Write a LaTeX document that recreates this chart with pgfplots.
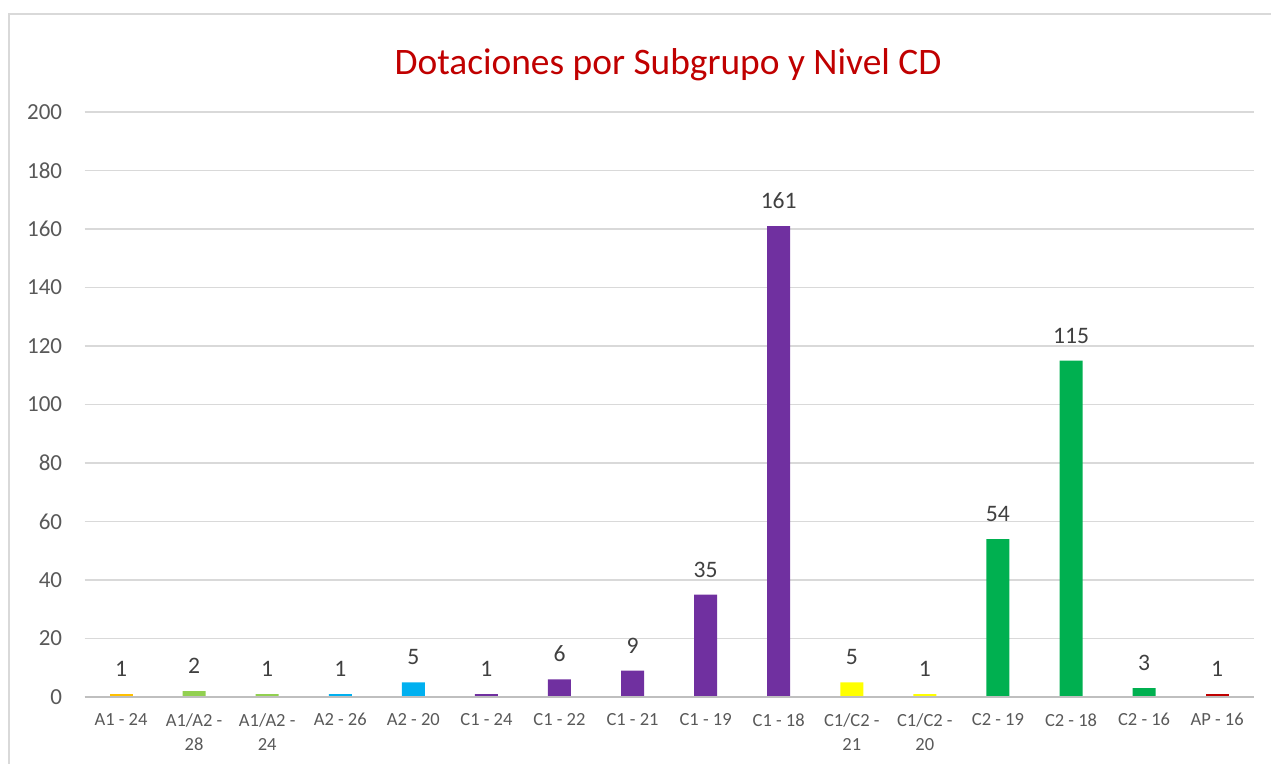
\documentclass[border=0pt]{standalone}
\usepackage{fontspec}
\setmainfont{Carlito}
\usepackage{pgfplots}
\pgfplotsset{compat=1.18}
\definecolor{titlered}{HTML}{C00000}
\definecolor{gridgray}{HTML}{D9D9D9}
\definecolor{axisgray}{HTML}{BFBFBF}
\definecolor{ticktxt}{HTML}{595959}
\definecolor{lbltxt}{HTML}{404040}
\definecolor{cgold}{HTML}{FFC000}
\definecolor{clgreen}{HTML}{92D050}
\definecolor{cblue}{HTML}{00B0F0}
\definecolor{cpurple}{HTML}{7030A0}
\definecolor{cyellow}{HTML}{FFFF00}
\definecolor{cgreen}{HTML}{00B050}
\definecolor{cred}{HTML}{C00000}
\begin{document}
\begin{tikzpicture}
\useasboundingbox (0,0) rectangle (635.5pt,382pt);
\begin{scope}
  \clip (0,0) rectangle (635.5pt,382pt);
  \draw[gridgray, line width=0.9pt] (4.5pt,-10pt) -- (4.5pt,375pt) -- (650pt,375pt);
\end{scope}
\node[anchor=base, text=titlered, font=\fontsize{18.7}{22}\selectfont] at (334pt,344.5pt) {Dotaciones por Subgrupo y Nivel CD};
\begin{axis}[
  at={(42.25pt,33.5pt)}, anchor=south west,
  scale only axis, width=584.6pt, height=292.5pt,
  xmin=-0.5, xmax=15.5, ymin=0, ymax=200,
  ytick={0,20,...,200},
  xtick={0,...,15},
  xticklabels={A1 - 24, {A1/A2 -\\28}, {A1/A2 -\\24}, A2 - 26, A2 - 20, C1 - 24, C1 - 22, C1 - 21, C1 - 19, C1 - 18, {C1/C2 -\\21}, {C1/C2 -\\20}, C2 - 19, C2 - 18, C2 - 16, AP - 16},
  major tick length=0pt,
  ymajorgrids, grid style={gridgray, line width=0.75pt},
  axis line style={draw=none},
  axis x line*=bottom, axis y line*=left,
  /pgf/number format/assume math mode=true,
  yticklabel style={inner sep=0pt, xshift=-11pt, text=ticktxt, font=\fontsize{11.5}{14}\selectfont},
  xticklabel style={inner sep=0pt, anchor=north, yshift=-8pt, align=center, text=ticktxt, font=\fontsize{9.25}{12}\selectfont},
  ybar, bar width=11.5pt, bar shift=0pt,
  nodes near coords,
  every node near coord/.append style={inner sep=0pt, anchor=south, yshift=8.5pt, text=lbltxt, font=\fontsize{11.8}{14}\selectfont},
  clip=false,
]
\addplot[draw=none, fill=cgold] coordinates {(0,1)};
\addplot[draw=none, fill=clgreen] coordinates {(1,2) (2,1)};
\addplot[draw=none, fill=cblue] coordinates {(3,1) (4,5)};
\addplot[draw=none, fill=cpurple] coordinates {(5,1) (6,6) (7,9) (8,35) (9,161)};
\addplot[draw=none, fill=cyellow] coordinates {(10,5) (11,1)};
\addplot[draw=none, fill=cgreen] coordinates {(12,54) (13,115) (14,3)};
\addplot[draw=none, fill=cred] coordinates {(15,1)};
\draw[axisgray, line width=0.75pt] (axis cs:-0.5,0) -- (axis cs:15.5,0);
\end{axis}
\end{tikzpicture}
\end{document}
